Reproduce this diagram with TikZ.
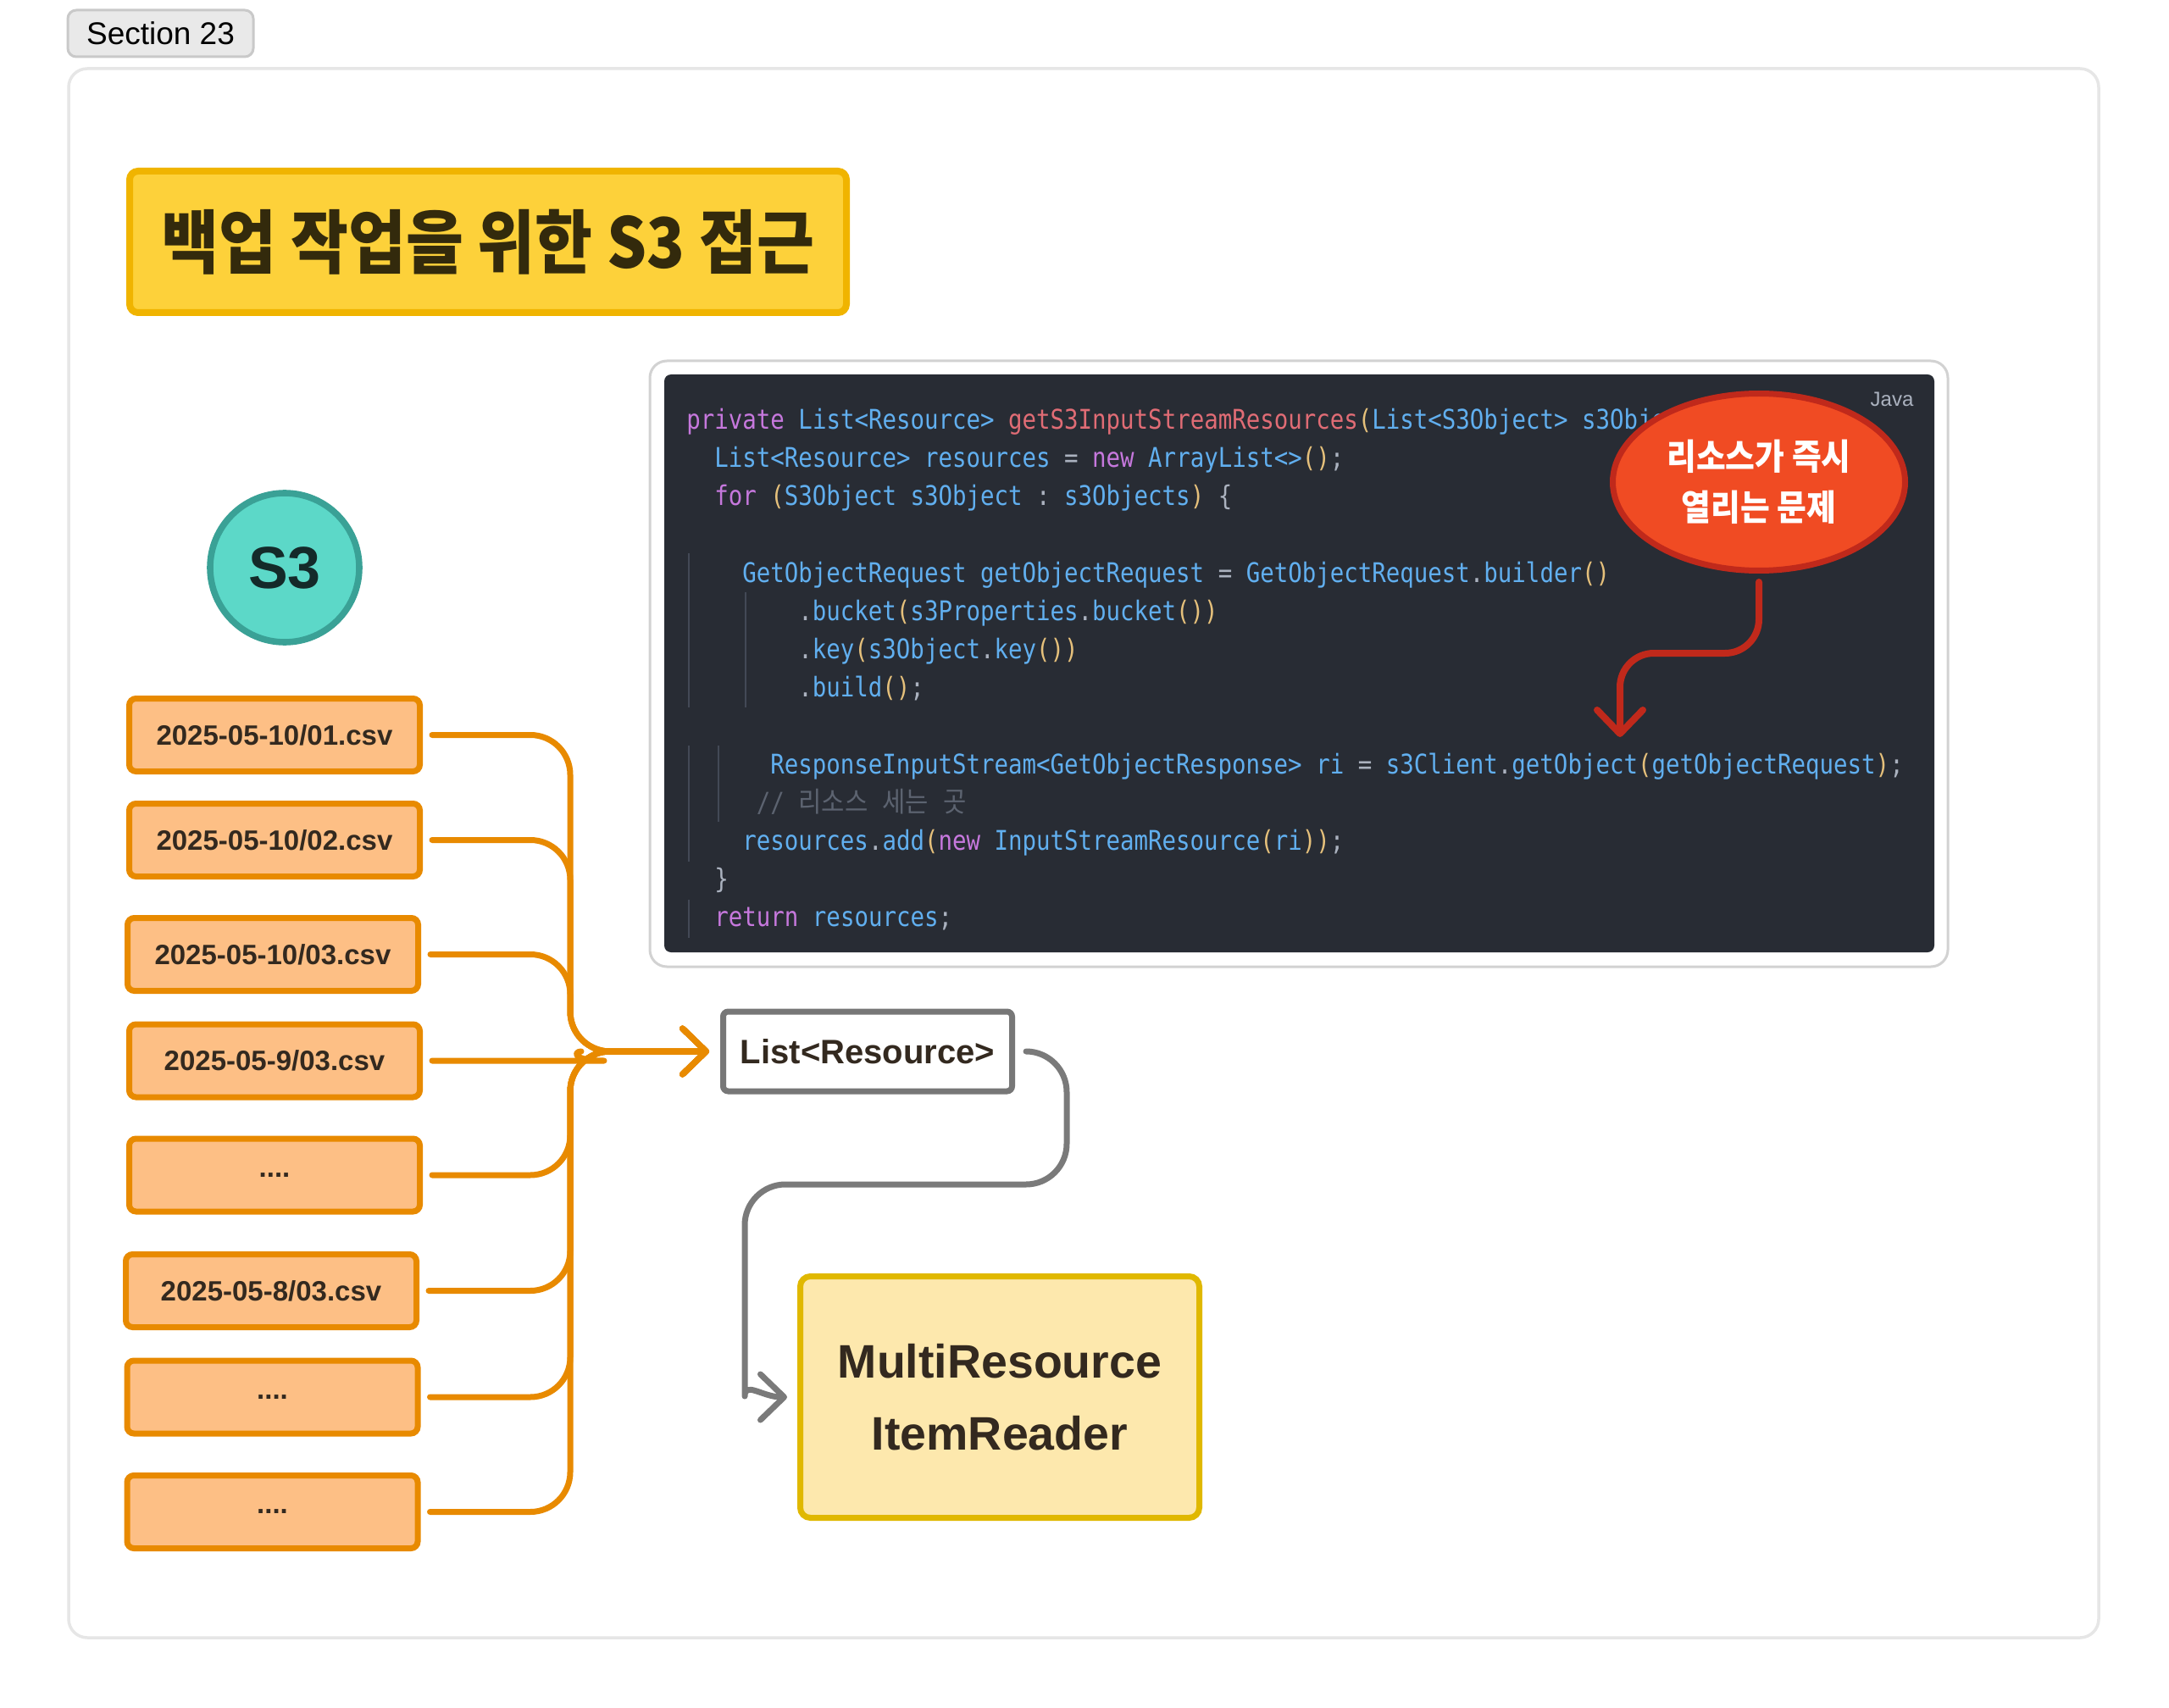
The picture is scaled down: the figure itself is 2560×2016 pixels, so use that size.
\documentclass[tikz,border=0pt]{standalone}
\usepackage{fontspec}
\usetikzlibrary{shapes.geometric,arrows.meta}
\setmainfont{Liberation Sans}
\newfontfamily\krfam{Noto Sans CJK KR}[FakeStretch=0.9]
\newfontfamily\codefam{DejaVu Sans Mono}[FakeStretch=0.857]
\newcommand\cfont{\codefam\fontsize{16pt}{16pt}\selectfont\frenchspacing}
\definecolor{framecol}{HTML}{E6E6E6}
\definecolor{tabfill}{HTML}{E9E9E9}
\definecolor{tabdraw}{HTML}{C9C9C9}
\definecolor{ttfill}{HTML}{FDD13A}
\definecolor{ttdraw}{HTML}{F0B400}
\definecolor{tttext}{HTML}{332A0C}
\definecolor{s3fill}{HTML}{5CD8C8}
\definecolor{s3draw}{HTML}{3AA196}
\definecolor{s3text}{HTML}{142A2A}
\definecolor{boxfill}{HTML}{FDBF85}
\definecolor{boxdraw}{HTML}{E88A00}
\definecolor{boxtext}{HTML}{33291F}
\definecolor{orline}{HTML}{E88A00}
\definecolor{lsdraw}{HTML}{777777}
\definecolor{grline}{HTML}{7A7A7A}
\definecolor{mrfill}{HTML}{FDE8AD}
\definecolor{mrdraw}{HTML}{E0B800}
\definecolor{panelborder}{HTML}{D2D2D2}
\definecolor{codebg}{HTML}{282C34}
\definecolor{guidecol}{HTML}{434956}
\definecolor{redfill}{HTML}{F04B23}
\definecolor{redline}{HTML}{C0291B}
\definecolor{ckwc}{HTML}{C678DD}
\definecolor{ctyc}{HTML}{61AFEF}
\definecolor{cfnc}{HTML}{E06C75}
\definecolor{cbrc}{HTML}{E5C07B}
\definecolor{cplc}{HTML}{ABB2BF}
\definecolor{ccmc}{HTML}{5C6370}
\newcommand\ckw[1]{\textcolor{ckwc}{#1}}
\newcommand\cty[1]{\textcolor{ctyc}{#1}}
\newcommand\cfn[1]{\textcolor{cfnc}{#1}}
\newcommand\cbr[1]{\textcolor{cbrc}{#1}}
\newcommand\cpl[1]{\textcolor{cplc}{#1}}
\begin{document}
\begin{tikzpicture}[x=0.5pt,y=-0.5pt,
  tabbox/.style={draw=tabdraw, fill=tabfill, line width=1.5pt, rounded corners=5pt, minimum width=109.5pt, minimum height=27.5pt, inner sep=0pt, font=\fontsize{18.5pt}{18.5pt}\selectfont, text=black},
  titlebox/.style={draw=ttdraw, fill=ttfill, line width=4pt, rounded corners=5pt, minimum width=423pt, minimum height=83.5pt, inner sep=0pt, text=tttext, font=\krfam\fontsize{41pt}{41pt}\selectfont\bfseries},
  s3node/.style={circle, draw=s3draw, fill=s3fill, line width=3.8pt, minimum size=88pt, inner sep=0pt, text=s3text, font=\fontsize{35pt}{35pt}\selectfont\bfseries},
  filebox/.style={draw=boxdraw, fill=boxfill, line width=3.5pt, rounded corners=4pt, minimum width=171.5pt, minimum height=43pt, inner sep=0pt, text=boxtext, font=\fontsize{16.5pt}{18pt}\selectfont\bfseries},
  listbox/.style={draw=lsdraw, fill=white, line width=3.5pt, rounded corners=3pt, minimum width=170.5pt, minimum height=47pt, inner sep=0pt, text=boxtext, font=\fontsize{20pt}{20pt}\selectfont\bfseries},
  mrbox/.style={draw=mrdraw, fill=mrfill, line width=3.5pt, rounded corners=6pt, minimum width=235.5pt, minimum height=142.5pt, inner sep=0pt, align=center, text=boxtext, font=\fontsize{27.75pt}{42.5pt}\selectfont\bfseries},
  redell/.style={ellipse, draw=redline, fill=redfill, line width=3.5pt, minimum width=172.5pt, minimum height=104.5pt, inner sep=0pt, align=center, text=white, font=\krfam\fontsize{21pt}{30pt}\selectfont\bfseries},
  codeline/.style={anchor=base west, inner sep=0pt, text=ctyc, font=\cfont},
  guide/.style={draw=guidecol, line width=1pt},
  oline/.style={draw=orline, line width=3.5pt, line cap=round, line join=round, rounded corners=23.5pt, -{Straight Barb[length=14pt,width=27pt,round]}},
  gline/.style={draw=grline, line width=3.5pt, line cap=round, line join=round, -{Straight Barb[length=14pt,width=27pt,round]}},
  rline/.style={draw=redline, line width=4pt, line cap=round, line join=round, -{Straight Barb[length=14pt,width=27pt,round]}}
]
\useasboundingbox (0,0) rectangle (2560,2016);
\fill[white] (0,0) rectangle (2560,2016);

% outer frame and tab
\draw[framecol, line width=1.75pt, rounded corners=11pt] (81,81) rectangle (2477,1933);
\node[tabbox] (sec) at (189.5,39.5) {Section 23};

% title
\node[titlebox] (title) at (576,285.5) {백업 작업을 위한 S3 접근};

% S3
\node[s3node] (s3) at (336,670) {S3};

% file boxes
\node[filebox] (b1) at (324,867.5) {2025-05-10/01.csv};
\node[filebox] (b2) at (324,991.5) {2025-05-10/02.csv};
\node[filebox] (b3) at (322,1126.5) {2025-05-10/03.csv};
\node[filebox] (b4) at (324,1252) {2025-05-9/03.csv};
\node[filebox] (b5) at (324,1387) {....};
\node[filebox] (b6) at (320,1523.5) {2025-05-8/03.csv};
\node[filebox] (b7) at (321.5,1649) {....};
\node[filebox] (b8) at (321.5,1784.5) {....};

% list and reader
\node[listbox] (lst) at (1024,1241) {List<Resource>};
\node[mrbox] (mr) at (1180,1649) {MultiResource\\ItemReader};

% orange bus
\coordinate (bus) at (673,1241);
\foreach \b in {b1,b2,b3,b5,b6,b7,b8}{
  \draw[oline] ([xshift=5.5pt]\b.east) -| (bus) -- ([xshift=-6.5pt]lst.west);
}
\draw[oline, -] ([xshift=5.5pt]b4.east) -- (666,1252) to[out=0,in=180] (686,1241);

% gray connector
\draw[gline, rounded corners=24pt] ([xshift=6.5pt]lst.east) -- (1259,1241) -- (1259,1398) -- (879,1398) -- (879,1600) [sharp corners] .. controls (879,1630) and (900,1649) .. ([xshift=-6pt]mr.west);

% code panel
\draw[draw=panelborder, fill=white, line width=1.5pt, rounded corners=10pt] (767,426) rectangle (2299,1141);
\fill[codebg, rounded corners=4pt] (784,442) rectangle (2283,1124);
\node[anchor=center, inner sep=0pt, text=cplc, font=\fontsize{12pt}{12pt}\selectfont] (java) at (2233,471) {Java};

\draw[guide] (813,653) -- (813,835);
\draw[guide] (880,699) -- (880,835);
\draw[guide] (813,880) -- (813,1017);
\draw[guide] (848,880) -- (848,970);
\draw[guide] (813,1062) -- (813,1107);

\node[codeline] (c1) at (810,507) {\ckw{private} \cty{List<Resource>} \cfn{getS3InputStreamResources}\cbr{(}\cty{List<S3Object> s3Objects}\cbr{)} \cpl{\{}};
\node[codeline] (c2) at (843,552) {\cty{List<Resource> resources} \cpl{=} \ckw{new} \cty{ArrayList<>}\cbr{()}\cpl{;}};
\node[codeline] (c3) at (843,597) {\ckw{for} \cbr{(}\cty{S3Object s3Object} \cpl{:} \cty{s3Objects}\cbr{)} \cpl{\{}};
\node[codeline] (c5) at (876,687.5) {\cty{GetObjectRequest getObjectRequest} \cpl{=} \cty{GetObjectRequest}\cpl{.}\cty{builder}\cbr{()}};
\node[codeline] (c6) at (942,732.5) {\cpl{.}\cty{bucket}\cbr{(}\cty{s3Properties}\cpl{.}\cty{bucket}\cbr{())}};
\node[codeline] (c7) at (942,777.5) {\cpl{.}\cty{key}\cbr{(}\cty{s3Object}\cpl{.}\cty{key}\cbr{())}};
\node[codeline] (c8) at (942,822.5) {\cpl{.}\cty{build}\cbr{()}\cpl{;}};
\node[codeline] (c10) at (909,913) {\cty{ResponseInputStream<GetObjectResponse> ri} \cpl{=} \cty{s3Client}\cpl{.}\cty{getObject}\cbr{(}\cty{getObjectRequest}\cbr{)}\cpl{;}};
\node[codeline, text=ccmc] (c11) at (892.5,958) {// {\krfam\fontsize{16.5pt}{16.5pt}\selectfont 리소스\hspace{8.5pt}세는\hspace{8.5pt}곳}};
\node[codeline] (c12) at (876,1003) {\cty{resources}\cpl{.}\cty{add}\cbr{(}\ckw{new} \cty{InputStreamResource}\cbr{(}\cty{ri}\cbr{))}\cpl{;}};
\node[codeline] (c13) at (843,1048) {\cpl{\}}};
\node[codeline] (c14) at (843,1093) {\ckw{return} \cty{resources}\cpl{;}};

% red callout
\node[redell] (ell) at (2076,569) {리소스가 즉시\\열리는 문제};
\coordinate (rtip) at (1912,870);
\draw[rline, rounded corners=20pt] ([yshift=-5pt]ell.south) |- (1912,771) -- (rtip);
\end{tikzpicture}
\end{document}
